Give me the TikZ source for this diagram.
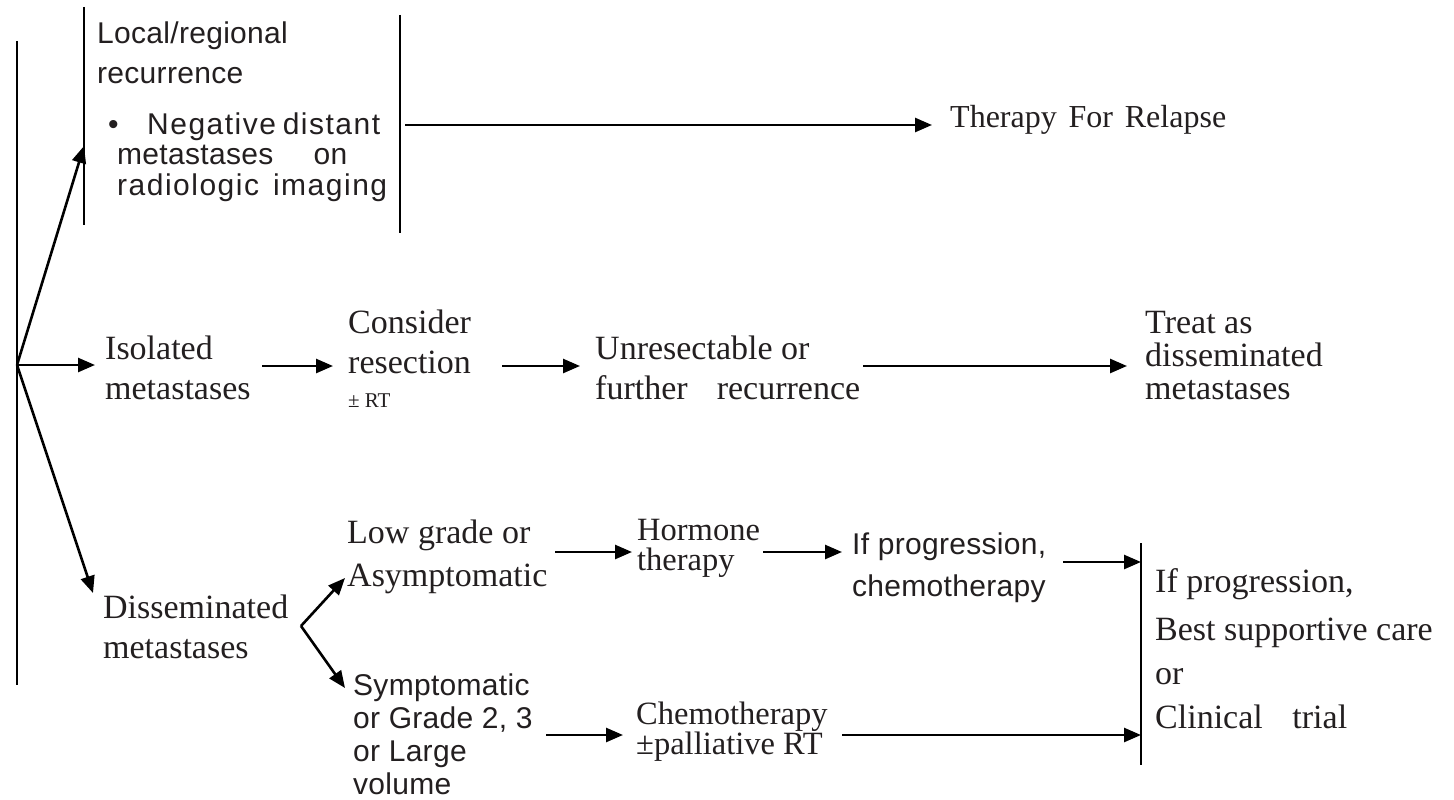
\documentclass[tikz,border=0pt]{standalone}
\usepackage{fontspec}
\setmainfont{Liberation Serif}
\newfontfamily\sansf[LetterSpace=1]{Liberation Sans}
\newfontfamily\sansw[LetterSpace=5]{Liberation Sans}
\usetikzlibrary{arrows.meta}
\definecolor{ink}{HTML}{231F20}
\newcommand\firstln{\rule{0pt}{24pt}}
\begin{document}
\begin{tikzpicture}[x=1pt,y=-1pt,
  txt/.style={inner sep=0pt, anchor=north west, align=left, text=ink},
  serif/.style={txt, font=\fontsize{34}{#1}\selectfont},
  sans/.style={txt, font=\sansf\fontsize{30}{#1}\selectfont},
  arr/.style={line width=2.6pt, -{Triangle[length=17pt,width=14pt]}},
  bar/.style={line width=2pt}]
\useasboundingbox (0,0) rectangle (1454,800);
\fill[white] (0,0) rectangle (1454,800);

% text nodes
\node[sans=40] (loc) at (97,19) {\firstln Local/regional\\recurrence};
\node[sans=30.5] (neg) at (108,110) {\firstln\makebox[39pt][l]{•}{\sansw\fontsize{30}{30.5}\selectfont\makebox[233pt][s]{Negative distant}}\\\hspace*{9pt}\makebox[230pt][s]{metastases on}\\\hspace*{9pt}{\sansw\fontsize{30}{30.5}\selectfont\makebox[270pt][s]{radiologic imaging}}};
\node[txt, font=\fontsize{32}{40}\selectfont] (tfr) at (950,103) {\firstln\makebox[276pt][s]{Therapy For Relapse}};
\node[serif=40] (iso) at (105,335) {\firstln Isolated\\metastases};
\node[serif=40] (cons) at (348,309) {\firstln Consider\\resection};
\node[txt, font=\fontsize{21}{24}\selectfont] (rt) at (348,383) {\firstln ± RT};
\node[serif=40] (unr) at (595,335) {\firstln Unresectable or\\\makebox[265pt][s]{further recurrence}};
\node[serif=33] (treat) at (1145,309) {\firstln Treat as\\disseminated\\metastases};
\node[serif=40] (dis) at (103,594) {\firstln Disseminated\\metastases};
\node[serif=43] (low) at (347,519) {\firstln Low grade or\\Asymptomatic};
\node[txt, font=\fontsize{32.5}{30}\selectfont] (horm) at (637,516) {\firstln Hormone\\therapy};
\node[sans=42] (ifp) at (852,530) {\firstln If progression,\\chemotherapy};
\node[txt, font=\fontsize{32.5}{29.5}\selectfont] (chemo) at (636,700) {\firstln Chemotherapy\\±palliative RT};
\node[sans=33] (sym) at (353,671) {\firstln Symptomatic\\or Grade 2, 3\\or Large\\volume};
\node[serif=44] (care) at (1155,568) {\firstln If progression,\\[4pt]Best supportive care\\or\\\makebox[192pt][s]{Clinical trial}};

% structural lines
\coordinate (lt) at (17,41);
\coordinate (lb) at (17,685);
\coordinate (b0) at (17,365);
\draw[bar] (lt) -- (lb);
\coordinate (bl1) at (84,7);
\coordinate (bl2) at (84,225);
\coordinate (br1) at (400,15);
\coordinate (br2) at (400,233);
\draw[bar] (bl1) -- (bl2);
\draw[bar] (br1) -- (br2);
\coordinate (lrin) at (84,146);
\coordinate (bt) at (1141,543);
\coordinate (bb) at (1141,765);
\draw[bar] (bt) -- (bb);

% rows
\coordinate (r1) at (0,125);
\coordinate (r2) at (0,366);
\coordinate (r3) at (0,552);
\coordinate (r3b) at (0,562);
\coordinate (r4) at (0,735);

% connectors
\draw[arr] (b0) -- (lrin);
\draw[arr] (b0) -- ([xshift=-10pt]iso.west |- b0);
\draw[arr] (b0) -- ([xshift=-10pt,yshift=1pt]dis.north west);
\draw[arr] ([xshift=5pt]br1 |- r1) -- ([xshift=-18pt]tfr.west |- r1);
\draw[arr] ([xshift=-86pt]cons.west |- r2) -- ([xshift=-15pt]cons.west |- r2);
\draw[arr] ([xshift=-93pt]unr.west |- r2) -- ([xshift=-15pt]unr.west |- r2);
\draw[arr] ([xshift=-282pt]treat.west |- r2) -- ([xshift=-18pt]treat.west |- r2);
\coordinate (fk) at (301,626);
\coordinate (fku) at (345,578);
\coordinate (fkd) at (345,688);
\draw[arr] (fk) -- (fku);
\draw[arr] (fk) -- (fkd);
\draw[arr] ([xshift=-82pt]horm.west |- r3) -- ([xshift=-5pt]horm.west |- r3);
\draw[arr] ([xshift=-89pt]ifp.west |- r3) -- ([xshift=-10pt]ifp.west |- r3);
\draw[arr] ([xshift=-78pt]bt |- r3b) -- (bt |- r3b);
\draw[arr] ([xshift=-90pt]chemo.west |- r4) -- ([xshift=-13pt]chemo.west |- r4);
\draw[arr] ([xshift=206pt]chemo.west |- r4) -- (bt |- r4);
\end{tikzpicture}
\end{document}
